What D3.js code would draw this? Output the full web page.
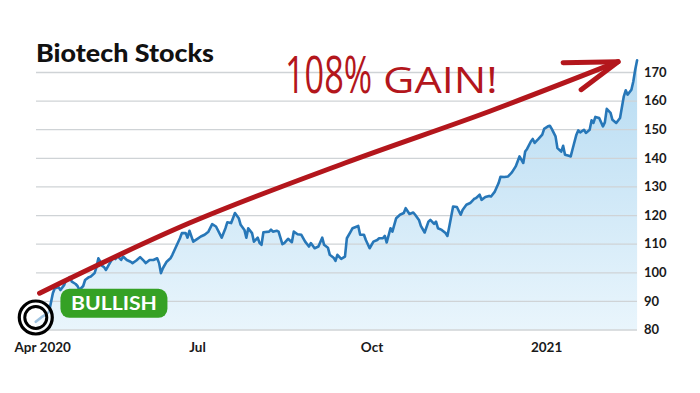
<!DOCTYPE html>
<html>
<head>
<meta charset="utf-8">
<script src="https://cdn.jsdelivr.net/npm/d3@7"></script>
<style>
body { margin: 0; background: #fff; }
svg { display: block; font-family: Lato, "Open Sans", sans-serif; }
</style>
</head>
<body>
<div id="chart"></div>
<script>
// data: days after Apr 1 2020, index level
const startDate = new Date(2020, 3, 1);
const dayOffsets = [6, 9, 11, 13, 15, 16, 18, 19, 21, 22, 24, 25, 27, 28, 29, 31, 32, 34, 35, 37,
  38, 39, 40, 41, 42, 43, 45, 47, 48, 49, 51, 52, 54, 56, 57, 59, 61, 63, 64, 66,
  68, 70, 71, 72, 73, 75, 77, 78, 80, 82, 83, 85, 86, 87, 89, 91, 93, 95, 97, 99,
  101, 104, 106, 107, 109, 111, 113, 114, 116, 117, 118, 120, 121, 123, 124, 125, 126, 129, 130, 131,
  133, 134, 136, 137, 139, 141, 142, 144, 146, 148, 150, 151, 153, 155, 157, 158, 160, 161, 163, 164,
  165, 167, 169, 170, 172, 173, 176, 177, 179, 180, 182, 184, 186, 187, 189, 190, 191, 193, 194, 196,
  198, 200, 201, 203, 205, 206, 208, 209, 211, 213, 214, 216, 217, 218, 220, 222, 223, 224, 226, 228,
  230, 231, 233, 235, 237, 238, 240, 241, 243, 245, 246, 248, 250, 251, 253, 255, 257, 259, 260, 261,
  263, 264, 265, 267, 268, 269, 271, 273, 274, 276, 277, 278, 280, 281, 283, 284, 285, 287, 288, 289,
  291, 292, 293, 295, 296, 298, 299, 300, 301, 303, 305, 306, 307, 309, 310, 312, 314, 316, 317, 318,
  320, 321, 322, 323];
const prices = [82.7, 84.3, 85.1, 86.2, 92.7, 94.4, 94.8, 93.8, 95.6, 97.3, 98.3, 96.7, 95.9, 95.2, 93.8, 95.2, 97.3, 98.3, 98.5, 99.7,
  101.8, 104.9, 103.7, 102.2, 101.8, 100.8, 103.2, 105.3, 104.6, 105.7, 104.3, 105.5, 104.3, 103.7, 103.2, 104.1, 105.3, 104.0, 103.2, 104.3,
  104.3, 104.9, 103.2, 99.7, 101.4, 103.7, 104.9, 106.1, 109.0, 111.9, 113.7, 113.7, 112.1, 114.5, 110.7, 111.6, 112.5, 113.1, 114.2, 116.8,
  116.0, 112.1, 115.4, 117.5, 117.2, 120.7, 118.9, 116.6, 114.8, 112.1, 115.4, 113.7, 110.7, 112.1, 110.2, 109.6, 114.0, 114.2, 114.9, 114.2,
  114.5, 114.2, 109.8, 110.2, 111.7, 110.5, 114.2, 113.3, 113.1, 110.7, 109.0, 110.2, 108.4, 109.0, 112.1, 109.6, 108.6, 106.1, 105.1, 104.0,
  106.1, 104.7, 105.5, 111.9, 114.2, 115.4, 116.2, 113.1, 113.1, 111.3, 108.4, 110.7, 111.3, 111.9, 111.9, 112.7, 110.4, 115.4, 114.2, 118.9,
  120.1, 120.7, 122.4, 120.4, 120.9, 120.1, 118.3, 116.2, 113.9, 117.7, 118.3, 116.9, 117.7, 115.4, 114.8, 113.7, 112.7, 116.0, 123.0, 122.8,
  120.1, 121.8, 123.6, 124.2, 125.6, 125.9, 127.1, 125.3, 126.3, 126.7, 126.5, 128.2, 131.2, 133.4, 133.3, 133.5, 134.9, 137.0, 138.7, 140.5,
  138.2, 142.2, 143.1, 145.7, 146.6, 145.2, 146.6, 148.1, 150.1, 151.0, 151.2, 150.1, 147.5, 143.4, 142.2, 144.2, 141.1, 140.7, 140.5, 143.1,
  148.1, 149.6, 148.9, 149.8, 148.7, 149.8, 153.1, 152.2, 154.3, 153.9, 151.0, 152.4, 157.1, 155.7, 153.3, 152.2, 153.9, 161.5, 163.6, 162.1,
  163.8, 166.7, 170.8, 174.1];
const yTicks = [80, 90, 100, 110, 120, 130, 140, 150, 160, 170];
const xTickDates = [new Date(2020, 3, 1), new Date(2020, 6, 1), new Date(2020, 9, 1), new Date(2021, 0, 1)];
const xTickLabels = ["Apr 2020", "Jul", "Oct", "2021"];
const title = "Biotech Stocks";
const gainText = ["108%", "GAIN!"];
const badgeText = "BULLISH";
// annotation anchors in data units [day, value]
const arrowPath = [[8.6, 92.7], [87.3, 117.2], [169, 138.2], [245.4, 156.2], [313.9, 173.6]];
const circleAt = [6, 84.2];
const badgeAt = [19.6, 94.2];

var width = 700, height = 393;
var svg = d3.select("#chart").append("svg").attr("width", width).attr("height", height);

var day = function(d){ return d3.timeDay.offset(startDate, d); };
var xScale = d3.scaleTime().domain([startDate, day(323)]).range([24.4, 637.1]);
var yScale = d3.scaleLinear().domain([80, 170]).range([329.5, 72]);
var plotLeft = 36, plotRight = 637;

var data = dayOffsets.map(function(d, i){ return {date: day(d), value: prices[i]}; });

// gradient for the area
var defs = svg.append("defs");
var grad = defs.append("linearGradient").attr("id", "fillGrad")
  .attr("gradientUnits", "userSpaceOnUse").attr("x1", 0).attr("x2", 0)
  .attr("y1", yScale(175)).attr("y2", yScale(80));
grad.append("stop").attr("offset", "0%").attr("stop-color", "#b6dbf2");
grad.append("stop").attr("offset", "100%").attr("stop-color", "#e9f5fc");

var area = d3.area().x(function(d){ return xScale(d.date); }).y0(yScale(80)).y1(function(d){ return yScale(d.value); });
svg.append("path").datum(data).attr("d", area).attr("fill", "url(#fillGrad)");

// gridlines
svg.append("g").attr("class", "grid")
  .attr("transform", "translate(" + plotLeft + ",0)")
  .call(d3.axisRight(yScale).tickValues(yTicks).tickSize(plotRight - plotLeft).tickFormat(""))
  .call(function(g){ g.select(".domain").remove(); })
  .selectAll("line").attr("stroke", "#cfd3d6").attr("stroke-width", 1.3);

// y labels on the right
svg.append("g")
  .attr("transform", "translate(" + plotRight + ",0)")
  .call(d3.axisRight(yScale).tickValues(yTicks).tickSize(0).tickPadding(7))
  .call(function(g){ g.select(".domain").remove(); })
  .selectAll("text").attr("font-size", 13).attr("font-weight", 700).attr("fill", "#1a1a1a")
  .attr("font-family", "Lato, sans-serif");

// x labels
var xAxis = svg.append("g")
  .attr("transform", "translate(0," + 342 + ")")
  .call(d3.axisBottom(xScale).tickValues(xTickDates).tickSize(0).tickPadding(0)
    .tickFormat(function(d, i){ return xTickLabels[i]; }));
xAxis.select(".domain").remove();
xAxis.selectAll("text").attr("font-size", 13.5).attr("font-weight", 700).attr("fill", "#1a1a1a")
  .attr("font-family", "Lato, sans-serif");
xAxis.selectAll("text").filter(function(d, i){ return i === 0; })
  .attr("text-anchor", "start").attr("dx", -10.4);

// price line
var line = d3.line().x(function(d){ return xScale(d.date); }).y(function(d){ return yScale(d.value); });
svg.append("path").datum(data).attr("d", line)
  .attr("fill", "none").attr("stroke", "#2777b8").attr("stroke-width", 2.6)
  .attr("stroke-linejoin", "round").attr("stroke-linecap", "round");

// title
svg.append("text").attr("x", 36).attr("y", 62).text(title)
  .attr("font-size", 24.5).attr("font-weight", 900).attr("fill", "#111")
  .attr("textLength", 178).attr("lengthAdjust", "spacingAndGlyphs");

// red hand-drawn arrow
var arrowLine = d3.line().curve(d3.curveCatmullRom)
  .x(function(d){ return xScale(day(d[0])); }).y(function(d){ return yScale(d[1]); });
var tip = arrowPath[arrowPath.length - 1];
var tx = xScale(day(tip[0])), ty = yScale(tip[1]);
var arrow = svg.append("g").attr("stroke", "#b3161c").attr("stroke-width", 5)
  .attr("stroke-linecap", "round").attr("stroke-linejoin", "round").attr("fill", "none");
arrow.append("path").attr("d", arrowLine(arrowPath));
arrow.append("path").attr("d", d3.line()([[tx - 55, ty + 1], [tx, ty], [tx - 37, ty + 28]]));

// handwritten label
svg.append("text").attr("transform", "translate(285,93) scale(0.66,1)").text(gainText[0])
  .attr("font-family", "'Open Sans', sans-serif").attr("font-weight", 400)
  .attr("font-size", 52).attr("fill", "#b3161c");
svg.append("text").attr("transform", "translate(383,93) scale(1.2,1)").text(gainText[1])
  .attr("font-family", "'Open Sans', sans-serif").attr("font-weight", 400)
  .attr("font-size", 36).attr("fill", "#b3161c");

// start marker circle
var cx = xScale(day(circleAt[0])), cy = yScale(circleAt[1]);
svg.append("circle").attr("cx", cx).attr("cy", cy).attr("r", 16.5)
  .attr("fill", "#fff").attr("fill-opacity", 0.55).attr("stroke", "#000").attr("stroke-width", 3.2);
svg.append("circle").attr("cx", cx).attr("cy", cy).attr("r", 11)
  .attr("fill", "none").attr("stroke", "#000").attr("stroke-width", 3);

// bullish badge
var bx = xScale(day(badgeAt[0])), by = yScale(badgeAt[1]);
svg.append("rect").attr("x", bx).attr("y", by).attr("width", 107).attr("height", 29).attr("rx", 9)
  .attr("fill", "#35a125");
svg.append("text").attr("x", bx + 53.5).attr("y", by + 21.5).attr("text-anchor", "middle")
  .text(badgeText).attr("font-size", 19).attr("font-weight", 700).attr("fill", "#fff")
  .attr("textLength", 86).attr("lengthAdjust", "spacingAndGlyphs");
</script>
</body>
</html>
